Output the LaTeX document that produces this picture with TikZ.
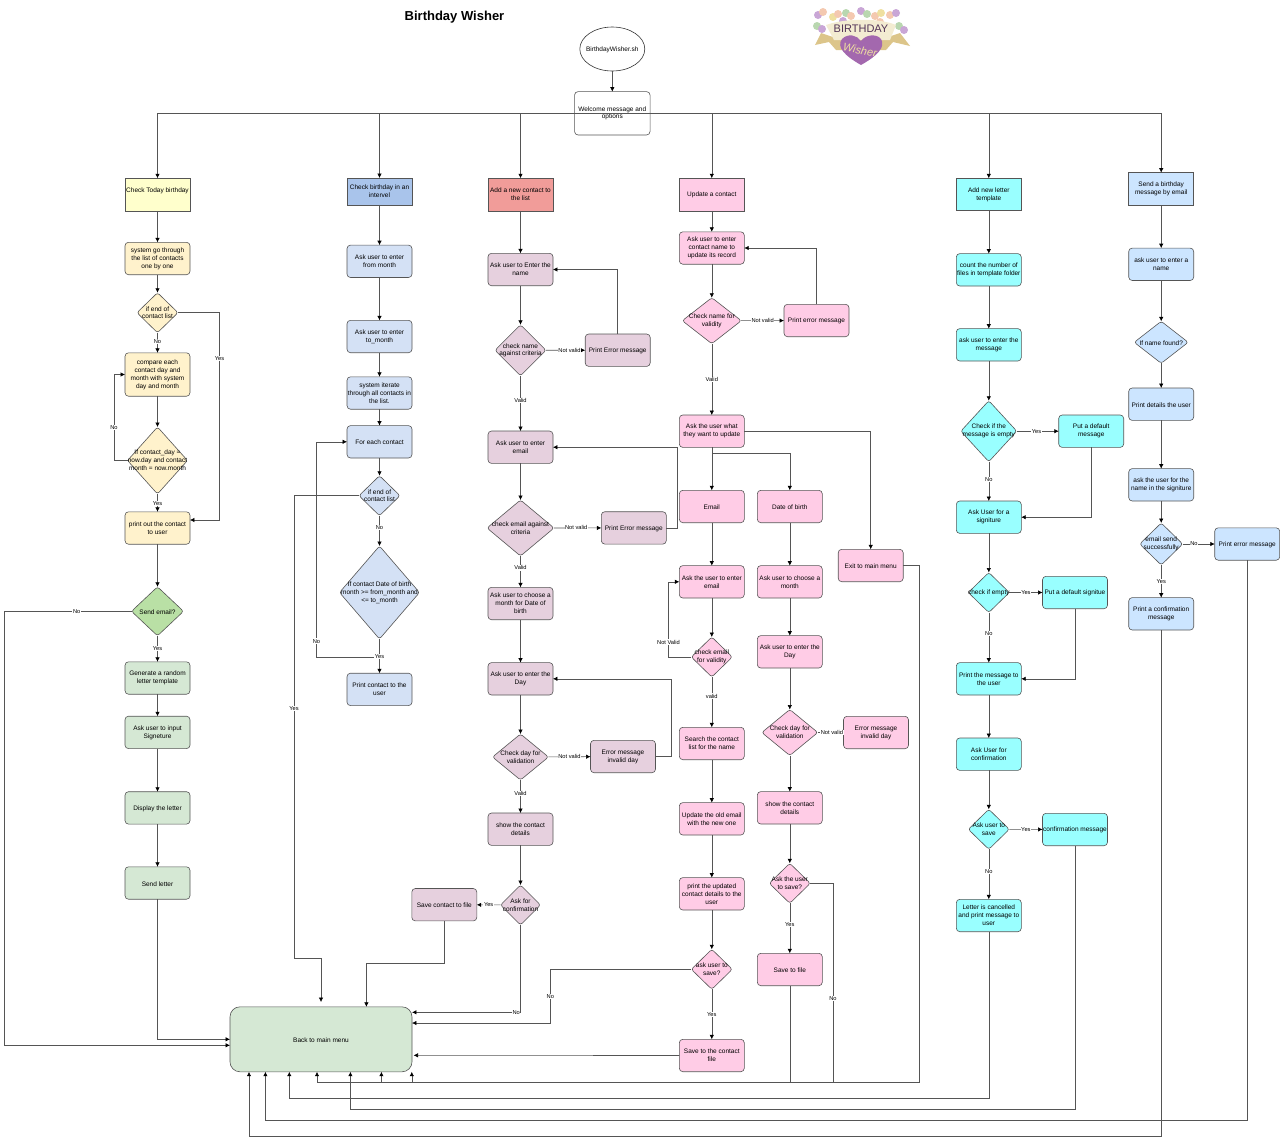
\documentclass[tikz,border=0pt]{standalone}
\usepackage{fontspec}
\setmainfont{Liberation Sans}
\usetikzlibrary{arrows.meta,shapes.geometric}

\definecolor{edgegray}{HTML}{555555}
\definecolor{yelhead}{HTML}{FFFFCC}
\definecolor{yelfill}{HTML}{FFF2CC}
\definecolor{grnhead}{HTML}{B9E0A5}
\definecolor{grnfill}{HTML}{D5E8D4}
\definecolor{bluhead}{HTML}{A9C4EB}
\definecolor{blufill}{HTML}{D4E1F5}
\definecolor{redhead}{HTML}{F19C99}
\definecolor{maufill}{HTML}{E6D0DE}
\definecolor{pnkfill}{HTML}{FFCCE6}
\definecolor{cyafill}{HTML}{99FFFF}
\definecolor{skyfill}{HTML}{CCE5FF}
\definecolor{balp}{HTML}{C9A6D6}
\definecolor{balo}{HTML}{F4C9B0}
\definecolor{baly}{HTML}{EFE0A0}
\definecolor{balg}{HTML}{B9D7B0}
\definecolor{ribbon}{HTML}{DCC58A}
\definecolor{banner}{HTML}{F3ECD2}
\definecolor{heart}{HTML}{A368AE}

\tikzset{
  every node/.style={font=\fontsize{6.5}{7.9}\selectfont},
  arr/.style={draw=edgegray,line width=0.6pt,-{Latex[length=4.4pt,width=4.4pt,color=black]}},
  pbox/.style={rectangle,draw=edgegray,line width=0.6pt,minimum width=65pt,minimum height=32.4pt,
    inner sep=0pt,outer sep=0pt,align=center,execute at begin node={\rule{0pt}{6.2pt}}},
  rbox/.style={pbox,rounded corners=3.5pt},
  declab/.style={align=center,inner sep=0pt,execute at begin node={\rule{0pt}{6.2pt}}},
  dec/.style n args={3}{diamond,draw=edgegray,line width=0.6pt,rounded corners=2.5pt,inner sep=0pt,outer sep=0pt,
    minimum width=#1pt,minimum height=#2pt,label={[declab]center:#3}},
  lab/.style={fill=white,inner sep=0.6pt,font=\fontsize{5.7}{7}\selectfont}
}

\begin{document}
\begin{tikzpicture}[x=1pt,y=-1pt]
  \useasboundingbox (0,0) rectangle (1280,1141);

  % title and logo
  \node (title) at (454.5,17) {\fontsize{13}{15}\selectfont\bfseries Birthday Wisher};
  \foreach \bx/\by/\bc in {818/15/balp,823/12/balo,833/17/baly,838/14/balo,846/13/balg,
    851/16/balo,861/11/balp,867/14/balg,875/16/balo,881/13/baly,890/15/balo,896/13/balp,
    817/26/balg,822/29/balp,899/26/balg,904/30/balp,843/21/balp,880/22/balo}
    \fill[\bc] (\bx,\by) circle [radius=4];
  \fill[ribbon] (815,45) -- (821,33) -- (836,38) -- (885,38) -- (900,33) -- (910,46)
    -- (893,42) -- (886,50) -- (836,50) -- (829,42) -- cycle;
  \fill[banner] (826,25) .. controls (845,18) and (880,18) .. (896,25) -- (890,40) -- (834,40) -- cycle;
  \fill[heart] (861,65) .. controls (845,56) and (836,47) .. (842,39)
    .. controls (848,33) and (857,35) .. (861,41) .. controls (865,35) and (876,33) .. (881,39)
    .. controls (886,47) and (877,56) .. (861,65) -- cycle;
  \node[text=heart!50!black] (logotop) at (861,29) {\fontsize{11}{12}\selectfont BIRTHDAY};
  \node[text=baly,rotate=-10] (logoname) at (860,50) {\fontsize{11}{12}\selectfont\itshape Wisher};

  % start
  \node (start) [ellipse,draw=black!80,line width=0.6pt,minimum width=65pt,minimum height=44pt,inner sep=0pt,
    outer sep=0pt,label={[declab]center:BirthdayWisher.sh}] at (612.3,49) {};
  \node (welcome) [rbox,minimum width=75.5pt,minimum height=43.4pt] at (612.3,113.3) {Welcome message and\\options};
  \draw[arr] (start) -- (welcome);

  % menu entries
  \foreach \nm/\xx/\yy/\hh/\cc/\tx in {
    today/157.5/194.5/32.6/yelhead/{Check Today birthday\\~},
    intrv/379.5/191.5/27/bluhead/{Check birthday in an\\intervel},
    addc/520.5/194.5/32.6/redhead/{Add a new contact to\\the list},
    updc/711.8/194.5/32.6/pnkfill/{Update a contact},
    addl/988.8/194.5/32.4/cyafill/{Add new letter\\template},
    sndm/1161.2/188.8/32.4/skyfill/{Send a birthday\\message by email}}
    \node (\nm) [pbox,minimum height=\hh pt,fill=\cc] at (\xx,\yy) {\tx};
  \foreach \nm in {today,intrv,addc,updc}
    \draw[arr] (welcome.west) -| (\nm.north);
  \foreach \nm in {addl,sndm}
    \draw[arr] (welcome.east) -| (\nm.north);

  % first column
  \foreach \nm/\yy/\tx in {
    tsys/258.5/{system go through\\the list of contacts\\one by one},
    tpri/528/{print out the contact\\to user}}
    \node (\nm) [rbox,fill=yelfill] at (157.5,\yy) {\tx};
  \node (tcmp) [rbox,fill=yelfill,minimum height=43.4pt] at (157.5,374.5) {compare each\\contact day and\\month with system\\day and month};
  \node (tend) [dec={41}{40}{if end of\\contact list},fill=yelfill] at (157.5,312.7) {};
  \node (tday) [dec={60}{67}{If contact\_day =\\now.day and contact\\month = now.month},fill=yelfill] at (157.5,460.5) {};
  \node (tsnd) [dec={52}{49}{Send email?},fill=grnhead] at (157.5,611.3) {};
  \foreach \nm/\yy/\tx in {
    tgen/678/{Generate a random\\letter template},
    tsig/732.4/{Ask user to input\\Signeture},
    tdis/807.9/{Display the letter},
    tlet/883/{Send letter}}
    \node (\nm) [rbox,fill=grnfill] at (157.5,\yy) {\tx};
  \node (back) [rbox,fill=grnfill,minimum width=182pt,minimum height=65pt,rounded corners=10pt] at (321,1039.3) {Back to main menu};

  \foreach \a/\b in {today/tsys,tsys/tend,tcmp/tday,tpri/tsnd,tgen/tsig,tsig/tdis,tdis/tlet}
    \draw[arr] (\a) -- (\b);
  \draw[arr] (tend) -- node[lab,pos=.45] {No} (tcmp);
  \draw[arr] (tday) -- node[lab,pos=.55] {Yes} (tpri);
  \draw[arr] (tsnd) -- node[lab,pos=.5] {Yes} (tgen);
  \draw[arr] (tend.east) -- ++(41.5,0) |- node[lab,pos=.11] {Yes} ([yshift=8pt]tpri.east);
  \draw[arr] (tday.west) -- ++(-13.5,0) |- node[lab,pos=.19] {No} (tcmp.west);
  \draw[arr] (tsnd.west) -- node[lab,pos=.43] {No} ++(-127.5,0) |- ([yshift=-6pt]back.west);
  \draw[arr] (tlet.south) |- (back.west);

  % second column
  \foreach \nm/\yy/\tx in {
    ifrm/261.3/{Ask user to enter\\from month},
    itom/336.5/{Ask user to enter\\to\_month},
    iitr/393/{system iterate\\through all contacts in\\the list.},
    ifor/441.8/{For each contact},
    ipri/689.4/{Print contact to the\\user}}
    \node (\nm) [rbox,fill=blufill] at (379.5,\yy) {\tx};
  \node (iend) [dec={41}{40}{if end of\\contact list},fill=blufill] at (379.5,495.7) {};
  \node (icon) [dec={80}{93}{If contact Date of birth\\month >= from\_month and\\<= to\_month},fill=blufill] at (379.5,592.5) {};
  \foreach \a/\b in {intrv/ifrm,ifrm/itom,itom/iitr,iitr/ifor,ifor/iend}
    \draw[arr] (\a) -- (\b);
  \draw[arr] (iend) -- node[lab,pos=.4] {No} (icon);
  \draw[arr] (icon.south) -- ++(0,18) -- ++(-63,0) |- node[lab,pos=.037] {No} (ifor.west);
  \draw[arr] (icon) -- node[lab,pos=.5] {Yes} (ipri);
  \coordinate (backgap) at (321,1002);
  \draw[arr] (iend.west) -- ++(-65,0) |- node[lab,pos=.23] {Yes} (backgap |- 0,958) -- (backgap);

  % third column
  \foreach \nm/\xx/\yy/\tx in {
    anam/520.5/269.5/{Ask user to Enter the\\name},
    aerr/617.7/350.2/{Print Error message},
    aema/520.5/447.2/{Ask user to enter\\email},
    aere/633.8/527.9/{Print Error message},
    amon/520.5/603.5/{Ask user to choose a\\month for Date of\\birth},
    aday/520.5/678.8/{Ask user to enter the\\Day},
    aerd/623/756.5/{Error message\\invalid day},
    ashw/520.5/829.2/{show the contact\\details},
    asav/444.3/904.7/{Save contact to file}}
    \node (\nm) [rbox,fill=maufill] at (\xx,\yy) {\tx};
  \node (dnam) [dec={51}{51}{check name\\against criteria},fill=maufill] at (520.5,350.3) {};
  \node (dema) [dec={67}{56}{check email against\\criteria},fill=maufill] at (520.5,528) {};
  \node (dday) [dec={56}{46}{Check day for\\validation},fill=maufill] at (520.5,757) {};
  \node (dcnf) [dec={40}{40}{Ask for\\confirmation},fill=maufill] at (520.5,905) {};
  \foreach \a/\b in {addc/anam,anam/dnam,aema/dema,amon/aday,aday/dday,ashw/dcnf}
    \draw[arr] (\a) -- (\b);
  \draw[arr] (dnam) -- node[lab,pos=.6] {Not valid} (aerr);
  \draw[arr] (dema) -- node[lab,pos=.47] {Not valid} (aere);
  \draw[arr] (dday) -- node[lab,pos=.5] {Not valid} (aerd);
  \draw[arr] (dnam) -- node[lab,pos=.45] {Valid} (aema);
  \draw[arr] (dema) -- node[lab,pos=.38] {Valid} (amon);
  \draw[arr] (dday) -- node[lab,pos=.4] {Valid} (ashw);
  \draw[arr] (dcnf) -- node[lab,pos=.5] {Yes} (asav);
  \draw[arr] (aerr.north) |- (anam.east);
  \draw[arr] (aere.east) -- ++(10.7,0) |- (aema.east);
  \draw[arr] (aerd.east) -- ++(16,0) |- (aday.east);
  \draw[arr] (asav.south) -- ++(0,42.3) -| ([xshift=45.4pt]back.north);
  \draw[arr] (dcnf.south) |- node[lab,pos=.52] {No} ([yshift=27pt]back.east);

  % fourth column
  \foreach \nm/\xx/\yy/\tx in {
    unam/711.8/248/{Ask user to enter\\contact name to\\update its record},
    uerr/816.5/320.5/{Print error message},
    uwht/711.8/431.2/{Ask the user what\\they want to update},
    umai/711.8/506.5/{Email},
    ubir/789.8/506.5/{Date of birth},
    uext/870.7/565.5/{Exit to main menu},
    ueml/711.8/581.8/{Ask the user to enter\\email},
    umon/789.8/581.8/{Ask user to choose a\\month},
    uday/789.8/651.8/{Ask user to enter the\\Day},
    uerd/876/732.5/{Error message\\invalid day},
    usch/711.8/743.5/{Search the contact\\list for the name},
    uold/711.8/818.8/{Update the old email\\with the new one},
    ushw/789.8/807.8/{show the contact\\details},
    uprt/711.8/893.8/{print the updated\\contact details to the\\user},
    usvf/789.8/969.5/{Save to file},
    usvc/711.8/1055.5/{Save to the contact\\file}}
    \node (\nm) [rbox,fill=pnkfill] at (\xx,\yy) {\tx};
  \node (vnam) [dec={59}{46}{Check name for\\validity},fill=pnkfill] at (711.8,320.7) {};
  \node (veml) [dec={41}{40}{check email\\for validity},fill=pnkfill] at (711.8,657) {};
  \node (vday) [dec={56}{46}{Check day for\\validation},fill=pnkfill] at (789.8,732.5) {};
  \node (vsvb) [dec={41}{40}{Ask the user\\to save?},fill=pnkfill] at (789.8,883.3) {};
  \node (vsvu) [dec={41}{40}{ask user to\\save?},fill=pnkfill] at (711.8,969.3) {};
  \foreach \a/\b in {updc/unam,unam/vnam,uwht/umai,umai/ueml,ubir/umon,umon/uday,uday/vday,ueml/veml,
    usch/uold,uold/uprt,uprt/vsvu,ushw/vsvb}
    \draw[arr] (\a) -- (\b);
  \draw[arr] (vnam) -- node[lab,pos=.5] {Not valid} (uerr);
  \draw[arr] (vnam) -- node[lab,pos=.5] {Valid} (uwht);
  \draw[arr] (veml) -- node[lab,pos=.38] {valid} (usch);
  \draw[arr] (vday) -- node[lab,pos=.55] {Not valid} (uerd);
  \draw[arr] (vday) -- (ushw);
  \draw[arr] (vsvb) -- node[lab,pos=.42] {Yes} (usvf);
  \draw[arr] (vsvu) -- node[lab,pos=.5] {Yes} (usvc);
  \draw[arr] (uerr.north) |- (unam.east);
  \draw[arr] (uwht.south) -- ++(0,5.4) -| (ubir.north);
  \draw[arr] (uwht.east) -| (uext.north);
  \draw[arr] (veml.west) -- ++(-22.8,0) |- node[lab,pos=.1] {Not Valid} (ueml.west);
  \draw[arr] (vsvu.west) -- ++(-141,0) |- node[lab,pos=.25] {No} ([yshift=16.3pt]back.east);
  \draw[arr] (usvc.west) -- ([xshift=1.6pt,yshift=-16pt]back.east);
  \draw[arr] (uext.east) -- ++(16,0) |- ([xshift=-4pt,yshift=-10.6pt]back.south) -- ([xshift=-4pt]back.south);
  \draw[arr] (vsvb.east) -- ++(22.7,0) |- node[lab,pos=.29] {No} ([xshift=90.8pt,yshift=-10.6pt]back.south) -- ([xshift=90.8pt]back.south);

  % fifth column
  \foreach \nm/\xx/\yy/\tx in {
    lcnt/988.8/269.8/{count the number of\\files in template folder},
    lmsg/988.8/344.8/{ask user to enter the\\message},
    ldfm/1091.2/431.2/{Put a default\\message},
    lsig/988.8/517.2/{Ask User for a\\signiture},
    ldfs/1075/592.5/{Put a default signitue},
    lprt/988.8/678.8/{Print the message to\\the user},
    lcnf/988.8/754.2/{Ask User for\\confirmation},
    lcfm/1075/829.5/{confirmation message},
    lcan/988.8/915.5/{Letter is cancelled\\and print message to\\user}}
    \node (\nm) [rbox,fill=cyafill] at (\xx,\yy) {\tx};
  \node (demp) [dec={56}{61}{Check if the\\message is empty},fill=cyafill] at (988.8,431.2) {};
  \node (dsgn) [dec={41}{40}{check if empty},fill=cyafill] at (988.8,592.5) {};
  \node (dsav) [dec={41}{40}{Ask user to\\save},fill=cyafill] at (988.8,829.3) {};
  \foreach \a/\b in {addl/lcnt,lcnt/lmsg,lmsg/demp,lsig/dsgn,lprt/lcnf,lcnf/dsav}
    \draw[arr] (\a) -- (\b);
  \draw[arr] (demp) -- node[lab,pos=.47] {Yes} (ldfm);
  \draw[arr] (dsgn) -- node[lab,pos=.5] {Yes} (ldfs);
  \draw[arr] (dsav) -- node[lab,pos=.5] {Yes} (lcfm);
  \draw[arr] (demp) -- node[lab,pos=.45] {No} (lsig);
  \draw[arr] (dsgn) -- node[lab,pos=.42] {No} (lprt);
  \draw[arr] (dsav) -- node[lab,pos=.45] {No} (lcan);
  \draw[arr] (ldfm.south) |- (lsig.east);
  \draw[arr] (ldfs.south) |- (lprt.east);

  % sixth column
  \foreach \nm/\xx/\yy/\tx in {
    snam/1161.2/264.3/{ask user to enter a\\name},
    sdet/1161.2/404.2/{Print details the user},
    ssig/1161.2/484.8/{ask the user for the\\name in the signiture},
    serr/1247.2/544/{Print error message},
    scon/1161.2/613.8/{Print a confirmation\\message}}
    \node (\nm) [rbox,fill=skyfill] at (\xx,\yy) {\tx};
  \node (dfnd) [dec={54}{42}{If name found?},fill=skyfill] at (1161.2,342.3) {};
  \node (dsnt) [dec={43}{42}{email send\\successfully},fill=skyfill] at (1161.2,544) {};
  \foreach \a/\b in {sndm/snam,snam/dfnd,dfnd/sdet,sdet/ssig,ssig/dsnt}
    \draw[arr] (\a) -- (\b);
  \draw[arr] (dsnt) -- node[lab,pos=.35] {No} (serr);
  \draw[arr] (dsnt) -- node[lab,pos=.5] {Yes} (scon);

  % the long way back
  \foreach \src/\dx/\dy in {usvf/60.4/10.6,lcan/-31.7/26.6,lcfm/29.4/37.6,serr/-55.6/48.3,scon/-72/64.3}
    \draw[arr] (\src.south) |- ([xshift=\dx pt,yshift=-\dy pt]back.south) -- ([xshift=\dx pt]back.south);
\end{tikzpicture}
\end{document}
